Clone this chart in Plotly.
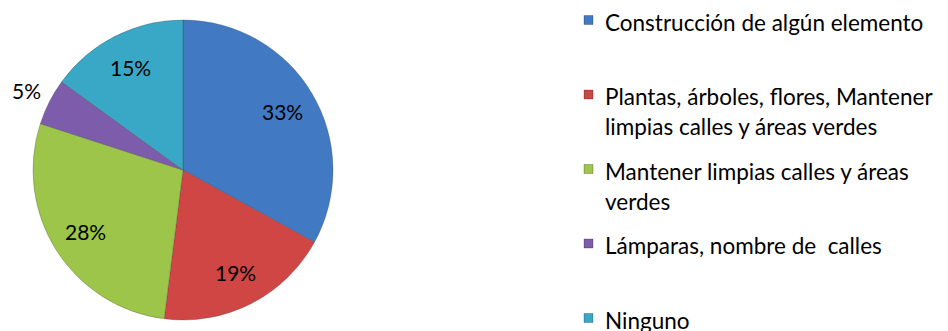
import math
import plotly.graph_objects as go

categories = [
    "Construcción de algún elemento",
    "Plantas, árboles, flores, Mantener<br>limpias calles y áreas verdes",
    "Mantener limpias calles y áreas<br>verdes",
    "Lámparas, nombre de  calles",
    "Ninguno",
]
values = [33, 19, 28, 5, 15]
colors = ["#4179C3", "#D04645", "#9DC54A", "#7D5CAB", "#38A8C6"]
label_outside = [False, False, False, True, False]

W, H = 948, 331
cx, cy, r = 183, 170, 150
FONT = "Lato, Carlito, sans-serif"

fig = go.Figure()
fig.add_trace(go.Pie(
    labels=categories,
    values=values,
    sort=False,
    direction="clockwise",
    rotation=0,
    marker=dict(colors=colors, line=dict(color="rgba(60,60,60,0.35)", width=0.8)),
    textinfo="none",
    automargin=False,
    showlegend=False,
    hoverinfo="label+percent",
    domain=dict(x=[(cx - r) / W, (cx + r) / W], y=[(H - cy - r) / H, (H - cy + r) / H]),
))

# percentage labels placed Excel-style along each slice's mid-angle
total = sum(values)
cum = 0
for v, outside in zip(values, label_outside):
    mid = (cum + v / 2) / total * 2 * math.pi
    cum += v
    frac = 1.17 if outside else 0.77
    px = cx + frac * r * math.sin(mid)
    py = cy - frac * r * math.cos(mid)
    fig.add_annotation(xref="paper", yref="paper", x=px / W, y=1 - py / H,
                       text=f"{round(v / total * 100)}%", showarrow=False,
                       xanchor="center", yanchor="middle",
                       font=dict(family=FONT, size=21, color="black"))

# manual legend (Excel-style: fixed slot pitch, marker aligned with first line)
first_y = 22
pitch = 74.5
line_gap = 30
marker_x = 584
text_x = 605
sq = 9
for i, (lab, col) in enumerate(zip(categories, colors)):
    y0 = first_y + i * pitch
    fig.add_shape(type="rect", xref="paper", yref="paper",
                  x0=marker_x / W, x1=(marker_x + sq) / W,
                  y0=1 - (y0 - 2 + sq / 2) / H, y1=1 - (y0 - 2 - sq / 2) / H,
                  fillcolor=col, line=dict(color="rgba(0,0,0,0.4)", width=0.6))
    for j, line in enumerate(lab.split("<br>")):
        fig.add_annotation(xref="paper", yref="paper",
                           x=text_x / W, y=1 - (y0 + j * line_gap) / H,
                           text=line, showarrow=False,
                           xanchor="left", yanchor="middle",
                           xshift=-2,
                           font=dict(family=FONT, size=22.5, color="black"))

fig.update_layout(
    width=W, height=H,
    margin=dict(l=0, r=0, t=0, b=0),
    paper_bgcolor="white",
    plot_bgcolor="white",
)

fig.write_html("out.html", config={"displayModeBar": False},
               post_script="document.body.style.margin='0';document.body.style.overflow='hidden';")
